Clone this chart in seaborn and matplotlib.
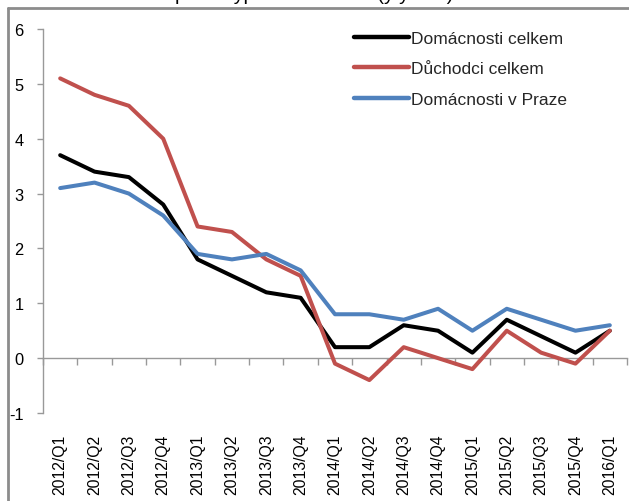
import matplotlib
matplotlib.use("Agg")
import matplotlib.pyplot as plt
import seaborn as sns
import pandas as pd
from matplotlib.lines import Line2D

quarters = ["2012/Q1", "2012/Q2", "2012/Q3", "2012/Q4",
            "2013/Q1", "2013/Q2", "2013/Q3", "2013/Q4",
            "2014/Q1", "2014/Q2", "2014/Q3", "2014/Q4",
            "2015/Q1", "2015/Q2", "2015/Q3", "2015/Q4",
            "2016/Q1"]
domacnosti_celkem = [3.7, 3.4, 3.3, 2.8, 1.8, 1.5, 1.2, 1.1, 0.2, 0.2, 0.6, 0.5, 0.1, 0.7, 0.4, 0.1, 0.5]
duchodci_celkem = [5.1, 4.8, 4.6, 4.0, 2.4, 2.3, 1.8, 1.5, -0.1, -0.4, 0.2, 0.0, -0.2, 0.5, 0.1, -0.1, 0.5]
domacnosti_praha = [3.1, 3.2, 3.0, 2.6, 1.9, 1.8, 1.9, 1.6, 0.8, 0.8, 0.7, 0.9, 0.5, 0.9, 0.7, 0.5, 0.6]
series_names = ["Domácnosti celkem", "Důchodci celkem", "Domácnosti v Praze"]
colors = ["#000000", "#C0504D", "#4F81BD"]
yticks = [-1, 0, 1, 2, 3, 4, 5, 6]

sns.set_theme(style="white")
plt.rcParams['font.family'] = ['Liberation Sans', 'DejaVu Sans']

df = pd.DataFrame({
    "quarter": quarters * 3,
    "pos": list(range(len(quarters))) * 3,
    "value": domacnosti_celkem + duchodci_celkem + domacnosti_praha,
    "series": [series_names[0]] * len(quarters) + [series_names[1]] * len(quarters) + [series_names[2]] * len(quarters),
})

W, H = 629, 502
fig = plt.figure(figsize=(W / 100, H / 100), dpi=100)
ax = fig.add_axes([43 / W, (H - 414) / H, 584 / W, 384 / H])

sns.lineplot(data=df, x="pos", y="value", hue="series", palette=colors,
             hue_order=series_names, linewidth=2.9, ax=ax, legend=False, sort=False,
             solid_capstyle="round", solid_joinstyle="round")

n = len(quarters)
ax.set_xlim(-0.5, n - 0.5)
ax.set_ylim(-1, 6)
ax.set_xlabel("")
ax.set_ylabel("")

ax.set_xticks(range(n))
ax.set_xticklabels(quarters, rotation=90, fontsize=11.3, color="#000000")
ax.tick_params(axis="x", length=0, pad=15)
ax.set_yticks(yticks)
ax.set_yticklabels([str(v) for v in yticks], fontsize=11.8, color="#000000")
ax.tick_params(axis="y", length=4, width=1, color="#999999", direction="out", pad=10, left=True)

for s in ["top", "right", "bottom"]:
    ax.spines[s].set_visible(False)
ax.spines["left"].set_color("#999999")
ax.spines["left"].set_linewidth(1)

# category axis drawn at zero with boundary ticks
sec = ax.secondary_xaxis(1 / 7)
sec.set_xticks([i - 0.5 for i in range(n + 1)])
sec.set_xticklabels([])
sec.tick_params(axis="x", length=5, width=1, color="#999999", direction="out")
sec.spines["bottom"].set_color("#999999")
sec.spines["bottom"].set_linewidth(1)

handles = [Line2D([], [], color=c, linewidth=3.2, solid_capstyle="round") for c in colors]
ax.legend(handles, series_names, loc="upper left", bbox_to_anchor=(354 / W, 1 - 32 / H),
          bbox_transform=fig.transFigure, frameon=False, fontsize=12.5,
          handlelength=3.15, handletextpad=0.12, labelspacing=0.87, borderpad=0, borderaxespad=0)

# outer frame (top and left edges visible)
fig.add_artist(Line2D([8 / W, 1], [1 - 9 / H, 1 - 9 / H], color="#8c8c8c", linewidth=2, transform=fig.transFigure))
fig.add_artist(Line2D([8 / W, 8 / W], [0, 1 - 9 / H], color="#8c8c8c", linewidth=2, transform=fig.transFigure))

# partially visible chart title, cut off by the top edge
fig.text(283 / W, 1 + 0.5 / H, "Inflace podle typu domácností (y/y v %)", ha="center", va="baseline",
         fontsize=14, color="#000000")

fig.savefig("out.png", dpi=100)
